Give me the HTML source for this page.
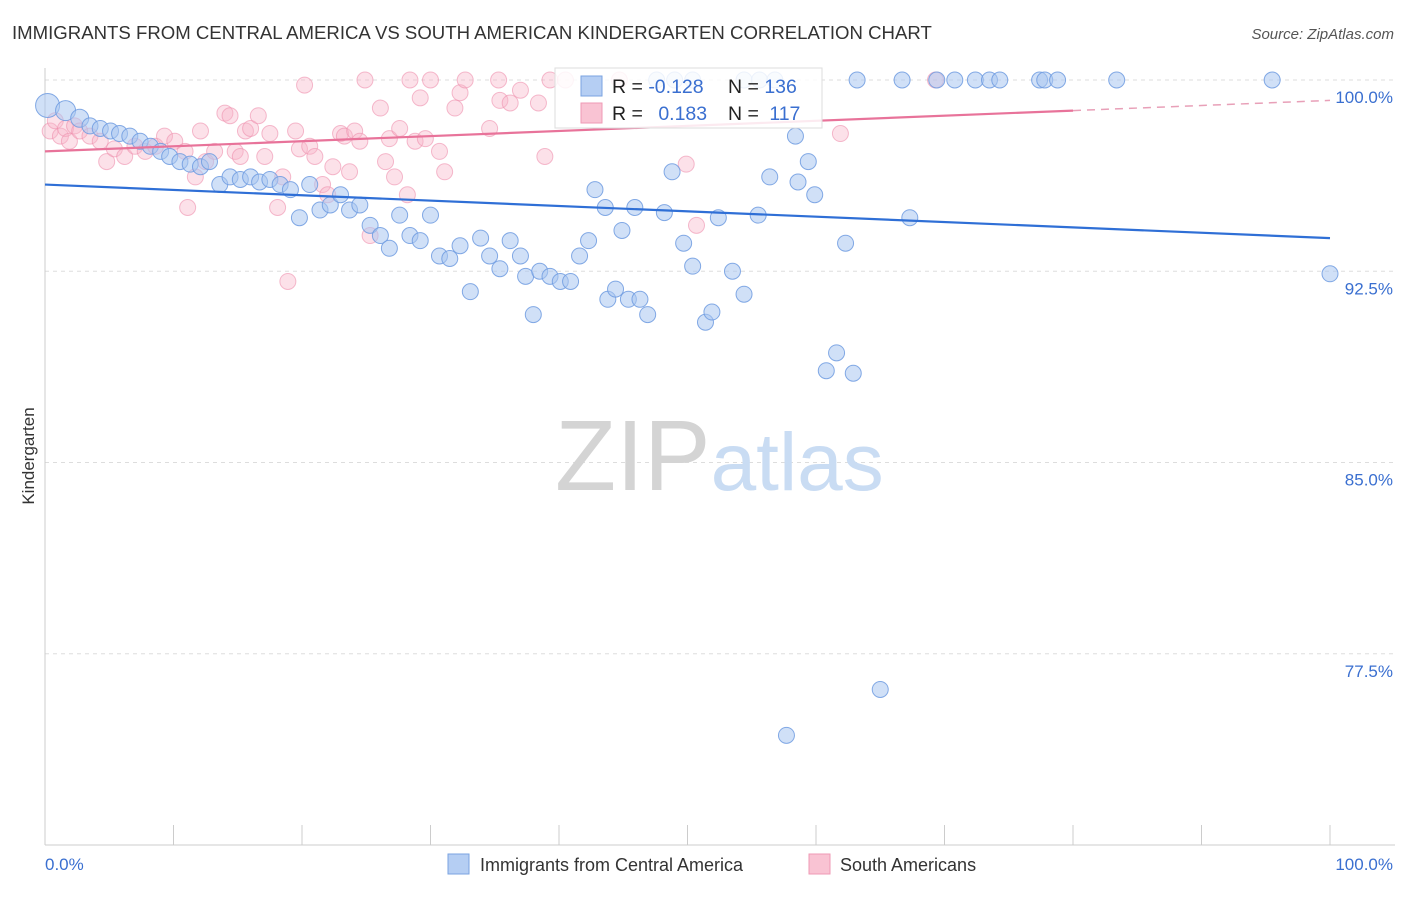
<!DOCTYPE html>
<html><head><meta charset="utf-8">
<style>
body{margin:0;background:#fff;font-family:"Liberation Sans",sans-serif;}
svg text{font-family:"Liberation Sans",sans-serif;}
</style></head>
<body>
<svg id="chart" width="1406" height="892">
<text x="12" y="39" font-size="18.6" fill="#333">IMMIGRANTS FROM CENTRAL AMERICA VS SOUTH AMERICAN KINDERGARTEN CORRELATION CHART</text>
<text x="1394" y="39" font-size="15" fill="#555" font-style="italic" text-anchor="end">Source: ZipAtlas.com</text>
<text x="34" y="456" font-size="17" fill="#333" text-anchor="middle" transform="rotate(-90 34 456)">Kindergarten</text>
<g id="grid"></g>
<text x="555" y="490" font-size="100" fill="#ddd" font-family="Liberation Serif"><tspan fill="#d4d4d4">ZIP</tspan><tspan fill="#c9dcf3" font-family="Liberation Sans" font-size="82">atlas</tspan></text>
<g id="pts"></g>
<g id="lines"></g>
<g>
<rect x="555" y="68" width="267" height="60" fill="#fff" fill-opacity="0.85" stroke="#ddd"/>
<rect x="581" y="76" width="21" height="20" fill="#b5cef3" stroke="#7aa3e0"/>
<rect x="581" y="103" width="21" height="20" fill="#f9c3d3" stroke="#ef9ab5"/>
<text x="612" y="93" font-size="19.5" fill="#222">R = <tspan fill="#3a6fd0">-0.128</tspan></text>
<text x="728" y="93" font-size="19.5" fill="#222">N = <tspan fill="#3a6fd0">136</tspan></text>
<text x="612" y="120" font-size="19.5" fill="#222">R = <tspan fill="#3a6fd0" dx="10">0.183</tspan></text>
<text x="728" y="120" font-size="19.5" fill="#222">N = <tspan fill="#3a6fd0" dx="5">117</tspan></text>
</g>
<g>
<rect x="448" y="854" width="21" height="20" fill="#b5cef3" stroke="#7aa3e0"/>
<text x="480" y="871" font-size="18" fill="#333">Immigrants from Central America</text>
<rect x="809" y="854" width="21" height="20" fill="#f9c3d3" stroke="#ef9ab5"/>
<text x="840" y="871" font-size="18" fill="#333">South Americans</text>
</g>
</svg>
<script>
const yTicks=[100,92.5,85,77.5];
const yTickLabels=["100.0%","92.5%","85.0%","77.5%"];
const xTicks=[0,10,20,30,40,50,60,70,80,90,100];
const blueX=[0.2,1.6,2.7,3.5,4.3,5.1,5.8,6.6,7.4,8.2,9.0,9.7,10.5,11.3,12.1,12.8,13.6,14.4,15.2,16.0,16.7,17.5,18.3,19.1,19.8,20.6,21.4,22.2,23.0,23.7,24.5,25.3,26.1,26.8,27.6,28.4,29.2,30.0,30.7,31.5,32.3,33.1,33.9,34.6,35.4,36.2,37.0,37.4,38.0,38.5,39.3,40.1,40.9,41.6,42.3,42.8,43.6,43.8,44.4,44.9,45.4,45.9,46.3,46.9,48.2,48.8,49.7,50.4,51.4,51.9,52.4,53.5,54.4,55.5,56.4,57.7,58.4,58.6,59.4,59.9,60.8,61.6,62.3,62.9,65.0,67.3,100,
47.6,49.0,50.4,54.4,55.6,56.8,63.2,66.7,69.4,70.8,72.4,73.5,74.3,77.4,77.8,78.8,83.4,95.5];
const blueY=[99.0,98.8,98.5,98.2,98.1,98.0,97.9,97.8,97.6,97.4,97.2,97.0,96.8,96.7,96.6,96.8,95.9,96.2,96.1,96.2,96.0,96.1,95.9,95.7,94.6,95.9,94.9,95.1,95.5,94.9,95.1,94.3,93.9,93.4,94.7,93.9,93.7,94.7,93.1,93.0,93.5,91.7,93.8,93.1,92.6,93.7,93.1,92.3,90.8,92.5,92.3,92.1,92.1,93.1,93.7,95.7,95.0,91.4,91.8,94.1,91.4,95.0,91.4,90.8,94.8,96.4,93.6,92.7,90.5,90.9,94.6,92.5,91.6,94.7,96.2,74.3,97.8,96.0,96.8,95.5,88.6,89.3,93.6,88.5,76.1,94.6,92.4,
100,100,100,100,100,100,100,100,100,100,100,100,100,100,100,100,100,100];
const pinkX=[0.4,0.8,1.2,1.6,1.9,2.3,2.7,3.5,4.3,4.8,5.4,6.2,7.0,7.8,8.6,9.3,10.1,10.9,11.1,11.7,12.1,12.5,13.2,14.0,14.4,14.8,15.2,15.6,16.0,16.6,17.1,17.5,18.1,18.5,18.9,19.5,19.8,20.2,20.6,21.0,21.6,22.0,22.4,23.0,23.3,23.7,24.1,24.5,24.9,25.3,26.1,26.5,26.8,27.2,27.6,28.2,28.4,28.8,29.2,29.6,30.0,30.7,31.1,31.9,32.3,32.7,34.6,35.3,35.4,36.2,37.0,38.4,38.9,39.3,40.5,44.7,49.9,50.7,61.9,69.3];
const pinkY=[98.0,98.4,97.8,98.1,97.6,98.2,98.0,97.8,97.6,96.8,97.3,97.0,97.4,97.2,97.4,97.8,97.6,97.2,95.0,96.2,98.0,96.8,97.2,98.7,98.6,97.2,97.0,98.0,98.1,98.6,97.0,97.9,95.0,96.2,92.1,98.0,97.3,99.8,97.4,97.0,95.9,95.5,96.6,97.9,97.8,96.4,98.0,97.6,100,93.9,98.9,96.8,97.7,96.2,98.1,95.5,100,97.6,99.3,97.7,100,97.2,96.4,98.9,99.5,100,98.1,100,99.2,99.1,99.6,99.1,97.0,100,100,100,96.7,94.3,97.9,100];
const blueSizes=[12,10,9];
const blueTrend=[95.9,93.8];   // at x=0 and x=100
const pinkTrend=[97.2,99.2];   // at x=0 and x=100
const pinkTrendSolidEnd=80;

const X0=45,X1=1330,YT=80,YB=845,VMAX=100,VMIN=70;
const xs=v=>X0+(v/100)*(X1-X0);
const ys=v=>YT+(VMAX-v)/(VMAX-VMIN)*(YB-YT);
const NS="http://www.w3.org/2000/svg";
function mk(tag,attrs,parent){const e=document.createElementNS(NS,tag);for(const k in attrs)e.setAttribute(k,attrs[k]);parent.appendChild(e);return e;}
const grid=document.getElementById('grid');
yTicks.forEach((t,i)=>{
  const l=mk('line',{x1:X0,x2:1395,y1:ys(t),y2:ys(t),stroke:'#ddd','stroke-dasharray':'4,4'},grid);
  
  
  const tx=mk('text',{x:1393,y:ys(t)+23,'font-size':17,fill:'#3a6fd0','text-anchor':'end'},grid);
  tx.textContent=yTickLabels[i];
  
  
});
const ax=mk('line',{x1:X0,x2:1395,y1:YB,y2:YB,stroke:'#ccc'},grid);


const ay=mk('line',{x1:X0,x2:X0,y1:68,y2:YB,stroke:'#ccc'},grid);


xTicks.forEach(t=>{
  const l=mk('line',{x1:xs(t),x2:xs(t),y1:825,y2:YB,stroke:'#ccc'},grid);
  
  
});
const xl0=mk('text',{x:45,y:870,'font-size':17,fill:'#3a6fd0'},grid);xl0.textContent='0.0%';


const xl1=mk('text',{x:1393,y:870,'font-size':17,fill:'#3a6fd0','text-anchor':'end'},grid);xl1.textContent='100.0%';



const pts=document.getElementById('pts');
pinkX.forEach((x,i)=>{
  const c=mk('circle',{cx:xs(x),cy:ys(pinkY[i]),r:8,fill:'#f7b3c8','fill-opacity':0.4,stroke:'#ee8fae','stroke-opacity':0.6},pts);
  
  
});
blueX.forEach((x,i)=>{
  const c=mk('circle',{cx:xs(x),cy:ys(blueY[i]),r:blueSizes[i]||8,fill:'#a9c6f0','fill-opacity':0.55,stroke:'#6f9be0','stroke-opacity':0.85},pts);
  
  
});
const lines=document.getElementById('lines');
const bl=mk('line',{x1:xs(0),y1:ys(blueTrend[0]),x2:xs(100),y2:ys(blueTrend[1]),stroke:'#2f6fd6','stroke-width':2.2},lines);


const pAt=x=>pinkTrend[0]+(pinkTrend[1]-pinkTrend[0])*x/100;
const pl=mk('line',{x1:xs(0),y1:ys(pAt(0)),x2:xs(pinkTrendSolidEnd),y2:ys(pAt(pinkTrendSolidEnd)),stroke:'#e8739a','stroke-width':2.2},lines);


const pd=mk('line',{x1:xs(pinkTrendSolidEnd),y1:ys(pAt(pinkTrendSolidEnd)),x2:xs(100),y2:ys(pAt(100)),stroke:'#e8a0b8','stroke-width':1.5,'stroke-dasharray':'8,6'},lines);


</script>
</body></html>
